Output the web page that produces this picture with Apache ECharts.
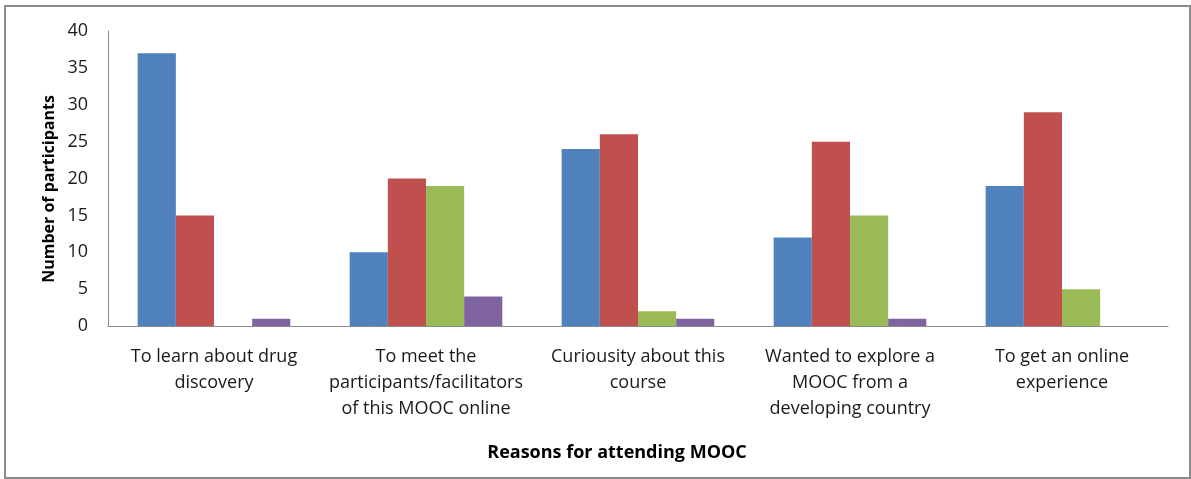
<!DOCTYPE html>
<html><head><meta charset="utf-8">
<script src="https://cdn.jsdelivr.net/npm/echarts@6/dist/echarts.min.js"></script>
<style>html,body{margin:0;padding:0;background:#fff;}#c{width:1191px;height:479px;}</style>
</head><body><div id="c"></div>
<script>
const categories = ["To learn about drug\ndiscovery", "To meet the\nparticipants/facilitators\nof this MOOC online", "Curiousity about this\ncourse", "Wanted to explore a\nMOOC from a\ndeveloping country", "To get an online\nexperience"];
const seriesA = [37, 10, 24, 12, 19];
const seriesB = [15, 20, 26, 25, 29];
const seriesC = [0, 19, 2, 15, 5];
const seriesD = [1, 4, 1, 1, 0];
const colors = ["#4F81BD", "#C0504D", "#9BBB59", "#8064A2"];
const font = "'Open Sans', Lato, sans-serif";
const chart = echarts.init(document.getElementById('c'));
const mk = (d, i) => ({type: 'bar', data: d, barGap: '0%', barCategoryGap: '28%', itemStyle: {color: colors[i]}, silent: true});
chart.setOption({
  animation: false,
  grid: {left: 108, right: 23, top: 31, bottom: 153, containLabel: false},
  graphic: [
    {type: 'rect', shape: {x: 5, y: 6, width: 1185, height: 472}, style: {fill: 'none', stroke: '#8c8c8c', lineWidth: 2}, z: -1},
    {type: 'text', x: 49, y: 189, rotation: Math.PI / 2, style: {text: 'Number of participants', fill: '#000', font: "bold 16px 'Open Sans', Lato, sans-serif", align: 'center', verticalAlign: 'middle'}},
    {type: 'text', x: 617, y: 453, style: {text: 'Reasons for attending MOOC', fill: '#000', font: "bold 18px 'Open Sans', Lato, sans-serif", align: 'center', verticalAlign: 'middle'}}
  ],
  xAxis: {
    type: 'category', data: categories,
    axisLine: {lineStyle: {color: '#8c8c8c'}}, axisTick: {show: false},
    axisLabel: {color: '#1a1a1a', fontSize: 18, fontFamily: font, lineHeight: 26, margin: 18, interval: 0}
  },
  yAxis: {
    type: 'value', min: 0, max: 40, interval: 5,
    axisLine: {show: true, lineStyle: {color: '#8c8c8c'}}, axisTick: {show: false},
    splitLine: {show: false},
    axisLabel: {color: '#1a1a1a', fontSize: 18, fontFamily: font, margin: 20}
  },
  series: [mk(seriesA, 0), mk(seriesB, 1), mk(seriesC, 2), mk(seriesD, 3)]
});
</script></body></html>
